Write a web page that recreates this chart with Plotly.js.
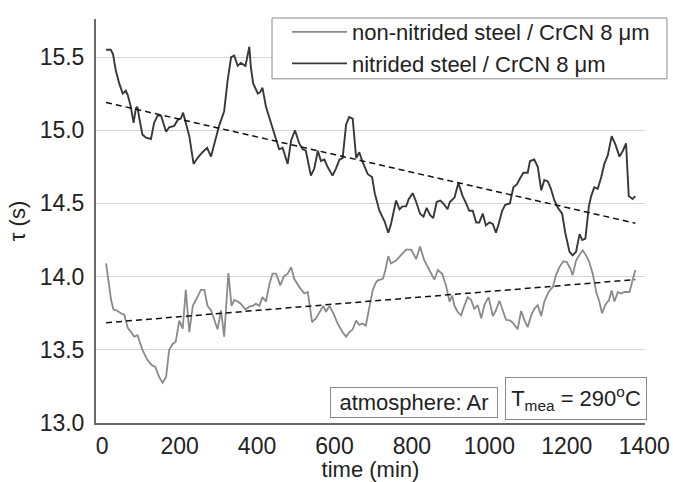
<!DOCTYPE html>
<html>
<head>
<meta charset="utf-8">
<script src="https://cdn.plot.ly/plotly-3.0.1.min.js"></script>
<style>html,body{margin:0;padding:0;background:#fff}#chart{width:673px;height:482px}</style>
</head>
<body>
<div id="chart"></div>
<script>
// time (min) and tau (s) for nitrided steel / CrCN 8 um (dark curve)
const nitridedTime = [10,22,28,35,44,53,61,66,74,81,87,91,96,104,113,126,134,143,152,165,173,186,195,203,209,216,225,236,246,259,271,281,294,302,315,324,333,341,350,358,370,380,384,390,402,408,414,423,436,449,457,466,479,488,498,509,518,526,539,548,557,565,574,582,595,604,613,621,630,638,647,656,664,673,686,697,704,716,729,739,746,759,768,776,785,792,802,811,821,830,838,847,855,864,873,881,892,898,910,920,931,940,948,957,966,974,983,991,1000,1009,1017,1024,1033,1041,1053,1062,1071,1079,1088,1099,1105,1116,1125,1134,1142,1151,1159,1168,1177,1188,1196,1207,1215,1224,1233,1240,1248,1257,1263,1271,1280,1289,1297,1306,1316,1326,1336,1345,1353,1360,1370,1377];
const nitridedTau = [15.55,15.55,15.52,15.41,15.32,15.25,15.27,15.24,15.16,15.05,15.15,15.16,15.08,14.97,14.95,14.94,15.05,15.10,15.10,14.99,15.02,15.03,15.07,15.08,15.12,15.05,14.96,14.77,14.81,14.85,14.88,14.82,14.95,15.03,15.13,15.34,15.50,15.51,15.44,15.46,15.44,15.57,15.43,15.32,15.25,15.26,15.29,15.16,15.05,14.94,14.87,14.88,14.77,14.93,15.00,14.91,14.87,14.86,14.69,14.74,14.86,14.79,14.80,14.75,14.69,14.74,14.80,14.81,15.04,15.09,15.08,14.81,14.85,14.78,14.70,14.68,14.57,14.45,14.38,14.30,14.36,14.52,14.46,14.48,14.48,14.53,14.57,14.51,14.43,14.41,14.47,14.42,14.40,14.51,14.52,14.50,14.46,14.51,14.54,14.64,14.55,14.50,14.45,14.45,14.37,14.37,14.43,14.35,14.37,14.36,14.30,14.36,14.45,14.49,14.50,14.61,14.63,14.67,14.71,14.71,14.79,14.80,14.75,14.59,14.66,14.65,14.60,14.52,14.47,14.43,14.30,14.17,14.145,14.17,14.29,14.25,14.26,14.48,14.55,14.61,14.60,14.68,14.77,14.83,14.96,14.90,14.82,14.86,14.91,14.55,14.53,14.55];

// time (min) and tau (s) for non-nitrided steel / CrCN 8 um (grey curve)
const plainTime = [10,16,23,29,37,48,57,66,74,83,91,104,117,128,137,147,156,165,173,182,190,199,208,216,225,234,242,255,264,272,281,290,298,307,315,326,334,341,350,358,370,380,389,397,406,414,423,432,440,449,460,469,479,488,496,509,522,531,542,552,563,571,578,587,597,608,621,630,638,647,656,664,673,681,690,699,707,712,725,731,739,746,759,772,785,798,811,821,832,845,858,867,878,888,897,904,910,918,927,936,944,953,961,970,979,987,998,1009,1017,1026,1035,1043,1054,1062,1073,1082,1091,1099,1108,1116,1125,1134,1142,1153,1164,1172,1181,1191,1200,1209,1215,1224,1233,1241,1250,1258,1267,1276,1284,1291,1300,1309,1316,1323,1332,1340,1349,1362,1370,1377];
const plainTau = [14.09,13.975,13.84,13.775,13.77,13.75,13.74,13.65,13.62,13.59,13.60,13.50,13.43,13.395,13.385,13.315,13.275,13.315,13.50,13.54,13.555,13.70,13.645,13.91,13.62,13.80,13.84,13.91,13.91,13.80,13.77,13.70,13.64,13.77,13.59,14.025,13.80,13.84,13.83,13.815,13.775,13.795,13.80,13.815,13.80,13.86,13.83,13.95,14.02,14.02,13.94,14.00,14.02,14.065,13.985,13.93,13.885,13.895,13.69,13.715,13.77,13.80,13.76,13.80,13.75,13.68,13.62,13.59,13.62,13.64,13.70,13.67,13.68,13.665,13.79,13.91,13.96,13.975,13.985,14.04,14.14,14.09,14.11,14.15,14.185,14.185,14.12,14.205,14.11,14.045,13.98,14.045,14.02,13.94,13.83,13.87,13.80,13.76,13.735,13.805,13.86,13.84,13.78,13.805,13.715,13.805,13.86,13.73,13.77,13.835,13.77,13.705,13.70,13.68,13.64,13.765,13.70,13.655,13.735,13.78,13.805,13.73,13.83,13.895,13.93,14.01,14.065,14.105,14.10,14.055,14.01,14.11,14.15,14.18,14.145,14.10,14.02,13.895,13.83,13.75,13.81,13.84,13.905,13.83,13.895,13.885,13.895,13.895,13.975,14.045];

// linear trend lines (end points)
const trendTime = [10, 1377];
const nitridedTrend = [15.19, 14.365];
const plainTrend = [13.685, 13.98];

const seriesNames = ['non-nitrided steel / CrCN 8 \u03bcm', 'nitrided steel / CrCN 8 \u03bcm'];
const xTickVals = [0,200,400,600,800,1000,1200,1400];
const yTickVals = [13.0,13.5,14.0,14.5,15.0,15.5];

const FONT = 'Liberation Sans, Arial, sans-serif';

const traces = [
  {x: plainTime, y: plainTau, type: 'scatter', mode: 'lines', name: seriesNames[0],
   line: {color: '#8a8a8a', width: 1.8}},
  {x: nitridedTime, y: nitridedTau, type: 'scatter', mode: 'lines', name: seriesNames[1],
   line: {color: '#383838', width: 1.9}},
  {x: trendTime, y: nitridedTrend, type: 'scatter', mode: 'lines', showlegend: false,
   line: {color: '#111', width: 1.5, dash: '6px,4px'}},
  {x: trendTime, y: plainTrend, type: 'scatter', mode: 'lines', showlegend: false,
   line: {color: '#111', width: 1.5, dash: '6px,4px'}}
];

const layout = {
  width: 673, height: 482,
  margin: {l: 96, r: 28, t: 18, b: 59},
  paper_bgcolor: '#fff', plot_bgcolor: '#fff',
  font: {family: FONT, size: 22, color: '#222'},
  showlegend: true,
  legend: {x: 0.3479, xanchor: 'left', y: 1.0173, yanchor: 'top',
    bgcolor: 'rgba(0,0,0,0)', borderwidth: 0,
    font: {family: FONT, size: 22, color: '#222'}, tracegroupgap: 0, itemwidth: 55},
  shapes: [
    {type: 'rect', xref: 'paper', yref: 'paper', x0: 0.3206, x1: 1.04, y0: 0.8519, y1: 1.0025,
     layer: 'above', fillcolor: '#fff', line: {color: '#8a8a8a', width: 1}}
  ],
  xaxis: {range: [-16, 1402], tickvals: xTickVals, ticktext: xTickVals.map(String),
    showgrid: false, zeroline: false, showline: true, linecolor: '#6a6a6a', linewidth: 2,
    ticks: '', ticklabelstandoff: 1, tickfont: {family: FONT, size: 23, color: '#222'},
    title: {text: 'time (min)', font: {family: FONT, size: 22, color: '#222'}, standoff: 6}},
  yaxis: {range: [13.0, 15.76], tickvals: yTickVals, ticktext: yTickVals.map(v => v.toFixed(1)),
    showgrid: true, gridcolor: '#d4d4d4', gridwidth: 1, zeroline: false,
    showline: true, linecolor: '#6a6a6a', linewidth: 2,
    ticks: '', ticklabelstandoff: 5, tickfont: {family: FONT, size: 23, color: '#222'},
    title: {text: '\u03c4 (s)', font: {family: FONT, size: 22, color: '#222'}, standoff: 8}},
  annotations: [
    {xref: 'paper', yref: 'paper', x: 0.580, y: 0.0506, xanchor: 'center', yanchor: 'middle',
     text: 'atmosphere: Ar', showarrow: false, font: {family: FONT, size: 22, color: '#222'},
     bgcolor: '#fff', bordercolor: '#8a8a8a', borderwidth: 1, borderpad: 2, width: 162, height: 25},
    {xref: 'paper', yref: 'paper', x: 0.874, y: 0.0605, xanchor: 'center', yanchor: 'middle',
     text: 'T<sub>mea</sub> = 290<sup>o</sup>C', showarrow: false, font: {family: FONT, size: 22, color: '#222'},
     bgcolor: '#fff', bordercolor: '#8a8a8a', borderwidth: 1, borderpad: 2, width: 136, height: 37}
  ]
};

Plotly.newPlot('chart', traces, layout, {displayModeBar: false, staticPlot: true});
</script>
</body>
</html>
